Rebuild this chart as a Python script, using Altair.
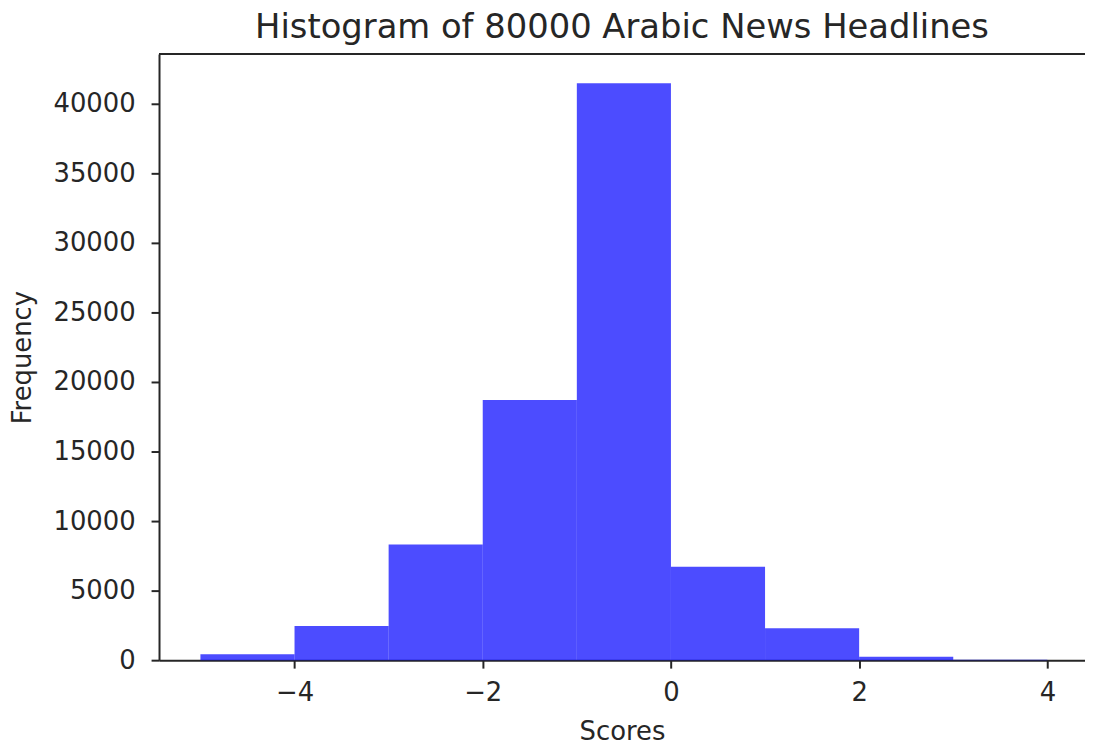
import altair as alt
import pandas as pd

bin_start = [-5, -4, -3, -2, -1, 0, 1, 2, 3]
bin_end = [-4, -3, -2, -1, 0, 1, 2, 3, 4]
counts = [420, 2450, 8320, 18700, 41480, 6720, 2290, 240, 30]

x_ticks = [-4, -2, 0, 2, 4]
y_ticks = [0, 5000, 10000, 15000, 20000, 25000, 30000, 35000, 40000]

df = pd.DataFrame({"start": bin_start, "end": bin_end, "count": counts})

FONT = "DejaVu Sans"
INK = "#262626"

x_scale = alt.Scale(domain=[-5.44, 4.40], nice=False, zero=False)
y_scale = alt.Scale(domain=[0, 43575], nice=False)

bars = alt.Chart(df).mark_rect(color="#0000ff", opacity=0.7).encode(
    x=alt.X("start:Q", scale=x_scale, title="Scores",
            axis=alt.Axis(values=x_ticks, format="d", grid=False, domainColor=INK,
                          domainWidth=2, tickColor=INK, tickWidth=2, tickSize=8,
                          labelFont=FONT, labelFontSize=26, labelColor=INK, labelPadding=12,
                          titleFont=FONT, titleFontSize=26, titleFontWeight="normal",
                          titleColor=INK, titlePadding=13, labelFlush=False)),
    x2="end:Q",
    y=alt.Y("count:Q", scale=y_scale, title="Frequency",
            axis=alt.Axis(values=y_ticks, format="d", grid=False, domainColor=INK,
                          domainWidth=2, tickColor=INK, tickWidth=2, tickSize=8,
                          labelFont=FONT, labelFontSize=26, labelColor=INK, labelPadding=16,
                          titleFont=FONT, titleFontSize=26, titleFontWeight="normal",
                          titleColor=INK, titlePadding=18, labelFlush=False)),
    y2=alt.datum(0),
)

top_spine = alt.Chart(df).mark_rule(color=INK, strokeWidth=2).encode(
    x=alt.value(0), x2=alt.value(932), y=alt.value(0)
)

chart = alt.layer(bars, top_spine).properties(
    width=932,
    height=610,
    title=alt.TitleParams("Histogram of 80000 Arabic News Headlines", font=FONT,
                          fontSize=34, fontWeight="normal", color=INK, offset=8),
    autosize=alt.AutoSizeParams(type="none"),
    padding={"left": 152, "top": 44, "right": 0, "bottom": 87},
).configure_view(stroke=None)

chart.save("out.html", embed_options={"renderer": "svg", "actions": False})
